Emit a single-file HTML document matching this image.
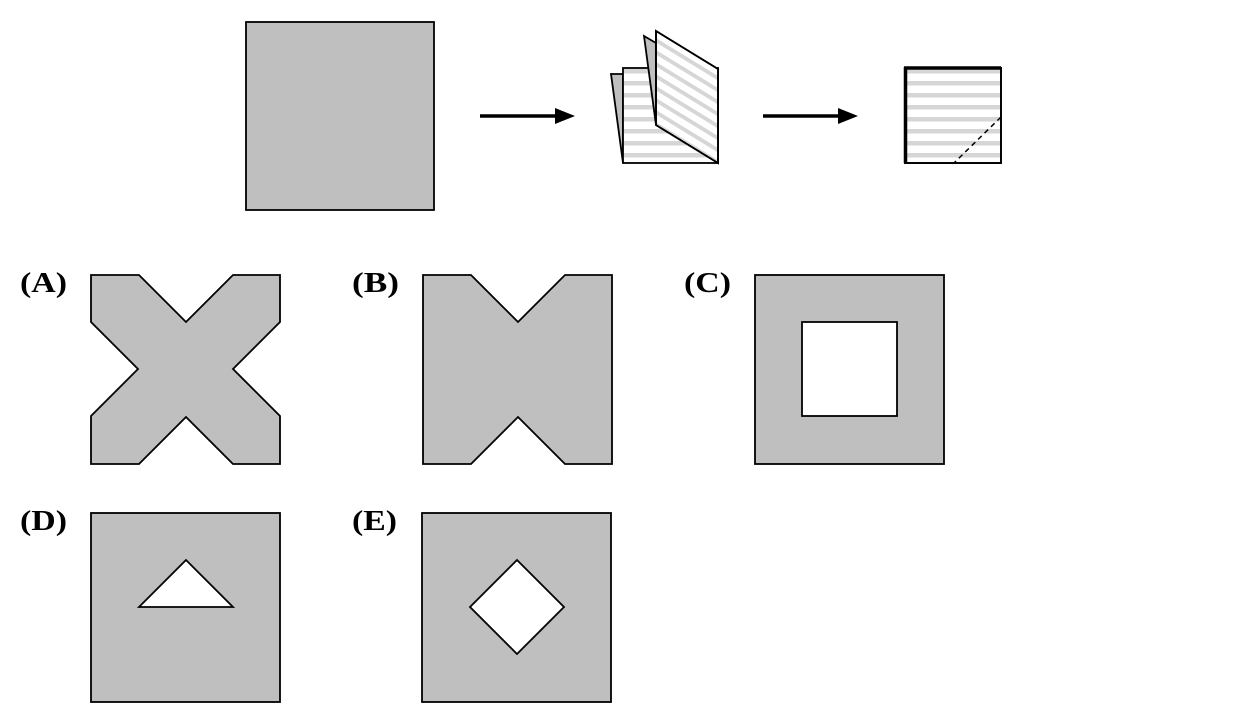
<!DOCTYPE html>
<html><head><style>
html,body{margin:0;padding:0;background:#fff;}
svg{display:block}
text{font-family:"Liberation Serif",serif;font-weight:bold;font-size:28px;fill:#000}
</style></head><body>
<svg width="1248" height="716" viewBox="0 0 1248 716" xmlns="http://www.w3.org/2000/svg">
<defs>
<pattern id="hs" patternUnits="userSpaceOnUse" width="20" height="12" y="81">
<rect x="0" y="0" width="20" height="4.5" fill="#d6d6d6"/>
</pattern>
<pattern id="ss" patternUnits="userSpaceOnUse" width="20" height="12" patternTransform="translate(656,38) skewY(31.5)">
<rect x="0" y="0" width="20" height="4.5" fill="#d6d6d6"/>
</pattern>
</defs>
<g stroke="#000" stroke-width="1.8" stroke-linejoin="miter">
<rect x="246" y="22" width="188" height="188" fill="#bfbfbf"/>
<line x1="480" y1="116" x2="558" y2="116" stroke-width="3.5"/>
<polygon points="555,108 575,116 555,124" fill="#000" stroke="none"/>
<line x1="763" y1="116" x2="841" y2="116" stroke-width="3.5"/>
<polygon points="838,108 858,116 838,124" fill="#000" stroke="none"/>
<polygon points="611,74 623,74 623,163" fill="#bfbfbf"/>
<rect x="623" y="68" width="95" height="95" fill="#fff"/>
<rect x="624" y="69" width="93" height="93" fill="url(#hs)" stroke="none"/>
<polygon points="644,36 656,43 656,125" fill="#bfbfbf"/>
<polygon points="656,31 718,69 718,163 656,125" fill="#fff"/>
<polygon points="657,33 717,70 717,161 657,124" fill="url(#ss)" stroke="none"/>
<polygon points="656,31 718,69 718,163 656,125" fill="none"/>
<rect x="905" y="68" width="96" height="95" fill="#fff"/>
<rect x="906" y="69" width="94" height="93" fill="url(#hs)" stroke="none"/>
<rect x="905" y="68" width="96" height="95" fill="none"/>
<line x1="905.5" y1="67" x2="905.5" y2="163" stroke-width="3.5"/>
<line x1="904" y1="68" x2="1001" y2="68" stroke-width="3.5"/>
<line x1="1001" y1="117" x2="954" y2="163" stroke-dasharray="5,4" stroke-width="1.5"/>
<polygon points="91,275 139,275 186,322 233,275 280,275 280,322 233,369 280,416 280,464 233,464 186,417 139,464 91,464 91,416 138,369 91,322" fill="#bfbfbf"/>
<polygon points="423,275 471,275 518,322 565,275 612,275 612,464 565,464 518,417 471,464 423,464" fill="#bfbfbf"/>
<rect x="755" y="275" width="189" height="189" fill="#bfbfbf"/>
<rect x="802" y="322" width="95" height="94" fill="#fff"/>
<rect x="91" y="513" width="189" height="189" fill="#bfbfbf"/>
<polygon points="139,607 186,560 233,607" fill="#fff"/>
<rect x="422" y="513" width="189" height="189" fill="#bfbfbf"/>
<polygon points="517,560 564,607 517,654 470,607" fill="#fff"/>
</g>
<text x="20" y="292" textLength="47" lengthAdjust="spacingAndGlyphs">(A)</text>
<text x="352" y="292" textLength="47" lengthAdjust="spacingAndGlyphs">(B)</text>
<text x="684" y="292" textLength="47" lengthAdjust="spacingAndGlyphs">(C)</text>
<text x="20" y="530" textLength="47" lengthAdjust="spacingAndGlyphs">(D)</text>
<text x="352" y="530" textLength="45" lengthAdjust="spacingAndGlyphs">(E)</text>
</svg>
</body></html>
